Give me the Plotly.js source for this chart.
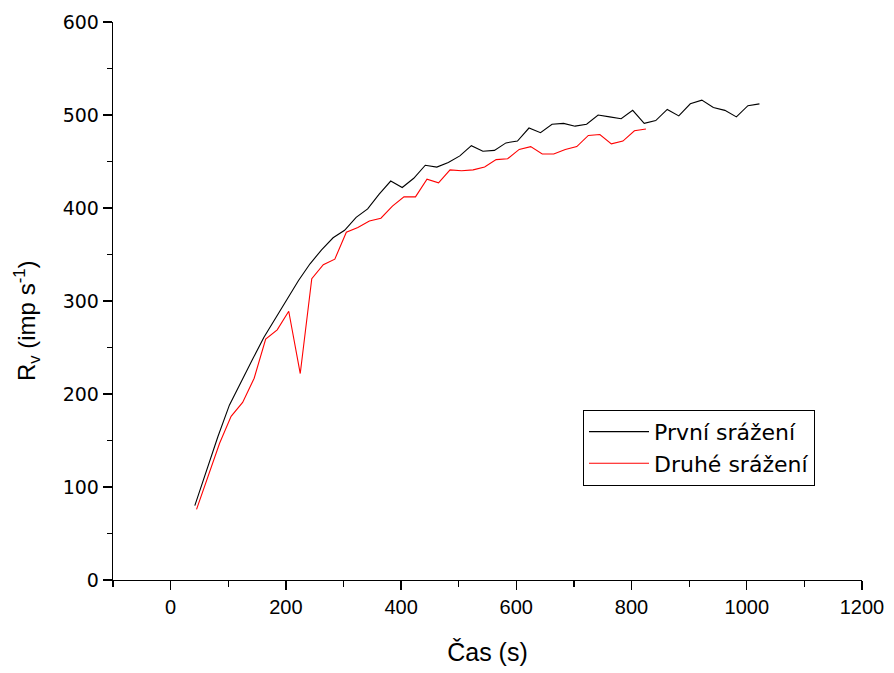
<!DOCTYPE html>
<html>
<head>
<meta charset="utf-8">
<script src="https://cdn.plot.ly/plotly-3.0.1.min.js"></script>
<style>html,body{margin:0;padding:0;background:#fff;}#chart{width:894px;height:673px;}</style>
</head>
<body>
<div id="chart"></div>
<script>
// First collision (První srážení)
const timeFirst = [42,62,82,102,122,142,162,182,202,222,242,262,282,302,322,342,362,382,402,422,442,462,482,502,522,542,562,582,602,622,642,662,682,702,722,742,762,782,802,822,842,862,882,902,922,942,962,982,1002,1022];
const rateFirst = [80,118,154,188,213,237,261,281,302,322,340,355,368,376,390,399,415,429,422,432,446,444,449,456,467,461,462,470,472,486,481,490,491,488,490,500,498,496,505,491,494,506,499,512,516,508,505,498,510,512];
// Second collision (Druhé srážení)
const timeSecond = [45,65,85,105,125,145,165,185,205,225,245,265,285,305,325,345,365,385,405,425,445,465,485,505,525,545,565,585,605,625,645,665,685,705,725,745,765,785,805,825];
const rateSecond = [76,112,147,176,191,217,259,269,289,222,324,339,345,374,379,386,389,402,412,412,431,427,441,440,441,444,452,453,463,466,458,458,463,466,478,479,469,472,483,485];
const seriesNames = ["První srážení", "Druhé srážení"];
const xTickVals = [0,200,400,600,800,1000,1200];
const yTickVals = [0,100,200,300,400,500,600];
const xTitle = 'Čas (s)';
const yTitle = 'R<sub>v</sub> (imp s<sup>-1</sup>)';

const traces = [
  {x: timeFirst, y: rateFirst, name: seriesNames[0], type: 'scatter', mode: 'lines',
   line: {color: '#000000', width: 1.1}},
  {x: timeSecond, y: rateSecond, name: seriesNames[1], type: 'scatter', mode: 'lines',
   line: {color: '#ff0000', width: 1.1}}
];

const layout = {
  width: 894, height: 673,
  margin: {l: 113, r: 32, t: 22, b: 93},
  paper_bgcolor: '#ffffff', plot_bgcolor: '#ffffff',
  showlegend: true,
  legend: {x: 0.6275, y: 0.305, xanchor: 'left', yanchor: 'top',
           bordercolor: '#000000', borderwidth: 1, bgcolor: '#ffffff',
           font: {family: 'DejaVu Sans, Liberation Sans, Arial, sans-serif', size: 22, color: '#000'},
           tracegroupgap: 0, itemwidth: 60},
  xaxis: {
    range: [-100, 1200], tickmode: 'array', tickvals: xTickVals,
    ticks: 'outside', ticklen: 9, tickwidth: 1.3, tickcolor: '#000',
    showline: true, linecolor: '#000', linewidth: 1.3, zeroline: false, showgrid: false,
    minor: {dtick: 100, tick0: 0, ticks: 'outside', ticklen: 6, tickwidth: 1.3, tickcolor: '#000', showgrid: false},
    tickfont: {family: 'Liberation Sans, Arial, sans-serif', size: 20, color: '#000'},
    title: {text: xTitle, standoff: 26,
            font: {family: 'Liberation Sans, Arial, sans-serif', size: 25, color: '#000'}}
  },
  yaxis: {
    range: [0, 600], tickmode: 'array', tickvals: yTickVals,
    ticks: 'outside', ticklen: 9, tickwidth: 1.3, tickcolor: '#000',
    showline: true, linecolor: '#000', linewidth: 1.3, zeroline: false, showgrid: false,
    minor: {dtick: 50, tick0: 0, ticks: 'outside', ticklen: 5, tickwidth: 1.3, tickcolor: '#000', showgrid: false},
    tickfont: {family: 'DejaVu Sans, Liberation Sans, Arial, sans-serif', size: 19, color: '#000'}
  },
  annotations: [
    {text: yTitle, xref: 'paper', yref: 'paper', x: -0.1148, y: 0.464,
     xanchor: 'center', yanchor: 'middle', textangle: -90, showarrow: false,
     font: {family: 'Liberation Sans, Arial, sans-serif', size: 24, color: '#000'}}
  ]
};

Plotly.newPlot('chart', traces, layout, {displayModeBar: false, staticPlot: true});
</script>
</body>
</html>
